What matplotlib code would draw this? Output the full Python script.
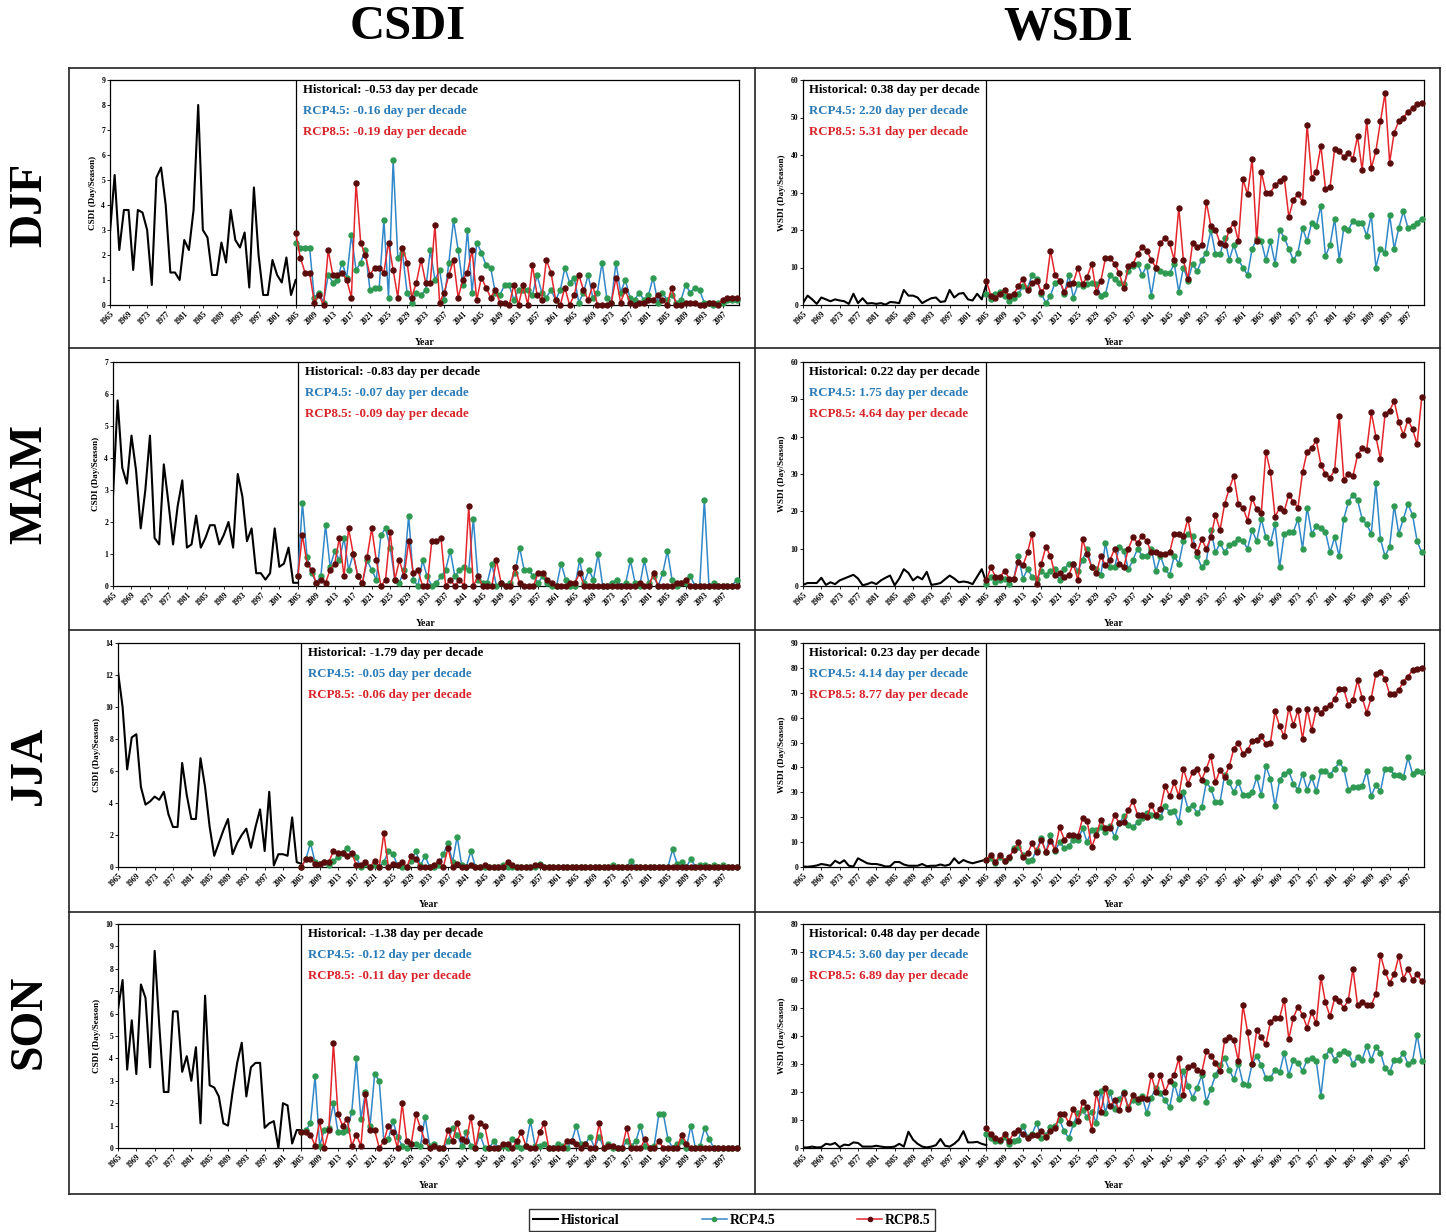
import numpy as np
import matplotlib
matplotlib.use('Agg')
import matplotlib.pyplot as plt
from matplotlib.lines import Line2D

plt.rcParams['font.family'] = ['Liberation Serif', 'DejaVu Serif']
plt.rcParams['font.weight'] = 'bold'

W, H = 1446, 1232

years_hist = list(range(1965, 2006))
proj_start = 2005
xticks = list(range(1965, 2101, 4))
seasons = ['DJF', 'MAM', 'JJA', 'SON']

# ---- CSDI ----
csdi_djf_hist = [2.9, 5.2, 2.2, 3.8, 3.8, 1.4, 3.8, 3.7, 3.0, 0.8,
                 5.1, 5.5, 4.0, 1.3, 1.3, 1.0, 2.6, 2.2, 3.8, 8.0,
                 3.0, 2.7, 1.2, 1.2, 2.5, 1.7, 3.8, 2.6, 2.3, 2.9,
                 0.7, 4.7, 2.0, 0.4, 0.4, 1.8, 1.2, 0.9, 1.9, 0.4,
                 1.0]
csdi_djf_rcp45 = [2.5, 2.3, 2.3, 2.3, 0.3, 0.5, 0.1, 1.2, 0.9, 1.0,
                  1.7, 1.1, 2.8, 1.4, 1.7, 2.2, 0.6, 0.7, 0.7, 3.4,
                  0.3, 5.8, 1.9, 2.1, 0.5, 0.1, 0.5, 0.4, 0.6, 2.2,
                  1.0, 1.4, 0.2, 1.7, 3.4, 2.2, 0.8, 3.0, 0.5, 2.5,
                  2.1, 1.6, 1.5, 0.5, 0.4, 0.8, 0.8, 0.2, 0.6, 0.6,
                  0.6, 0.4, 1.2, 0.5, 0.3, 0.6, 0.2, 0.6, 1.5, 0.9,
                  1.1, 0.1, 0.5, 1.2, 0.3, 0.5, 1.7, 0.3, 0.1, 1.7,
                  0.5, 1.0, 0.3, 0.2, 0.5, 0.2, 0.4, 1.1, 0.1, 0.5,
                  0.2, 0.4, 0.1, 0.2, 0.8, 0.5, 0.7, 0.6, 0.1, 0.1,
                  0.0, 0.1, 0.1, 0.2, 0.2, 0.2]
csdi_djf_rcp85 = [2.9, 1.9, 1.3, 1.3, 0.1, 0.4, 0.0, 2.2, 1.2, 1.2,
                  1.3, 1.0, 0.3, 4.9, 2.5, 2.0, 1.2, 1.5, 1.5, 1.3,
                  2.5, 1.4, 0.3, 2.3, 1.7, 0.3, 0.9, 1.8, 0.9, 0.9,
                  3.2, 0.1, 0.5, 1.2, 1.8, 0.3, 1.0, 1.3, 2.2, 0.2,
                  1.1, 0.7, 0.3, 0.6, 0.1, 0.1, 0.0, 0.8, 0.0, 0.8,
                  0.0, 1.6, 0.4, 0.2, 1.8, 1.3, 0.2, 0.0, 0.7, 0.0,
                  0.4, 1.2, 0.6, 0.2, 0.8, 0.0, 0.0, 0.0, 0.1, 1.1,
                  0.1, 0.6, 0.1, 0.0, 0.1, 0.1, 0.2, 0.2, 0.4, 0.2,
                  0.0, 0.7, 0.0, 0.0, 0.1, 0.1, 0.1, 0.0, 0.0, 0.1,
                  0.1, 0.0, 0.2, 0.3, 0.3, 0.3]

csdi_mam_hist = [2.8, 5.8, 3.7, 3.2, 4.7, 3.6, 1.8, 3.0, 4.7, 1.5,
                 1.3, 3.8, 2.6, 1.3, 2.5, 3.3, 1.2, 1.3, 2.2, 1.2,
                 1.5, 1.9, 1.9, 1.3, 1.6, 2.0, 1.2, 3.5, 2.8, 1.4,
                 1.8, 0.4, 0.4, 0.2, 0.4, 1.8, 0.6, 0.7, 1.2, 0.1,
                 0.1]
csdi_mam_rcp45 = [0.3, 2.6, 0.9, 0.4, 0.1, 0.3, 1.9, 0.6, 1.1, 0.8,
                  1.5, 0.5, 1.0, 0.3, 0.1, 0.8, 0.5, 0.2, 1.6, 1.8,
                  1.2, 0.2, 0.1, 0.5, 2.2, 0.2, 0.0, 0.8, 0.3, 0.0,
                  0.1, 0.3, 0.5, 1.1, 0.3, 0.5, 0.6, 0.5, 2.1, 0.2,
                  0.1, 0.1, 0.7, 0.0, 0.1, 0.0, 0.1, 0.4, 1.2, 0.5,
                  0.5, 0.3, 0.1, 0.3, 0.1, 0.0, 0.0, 0.7, 0.2, 0.0,
                  0.0, 0.8, 0.1, 0.5, 0.2, 1.0, 0.0, 0.0, 0.1, 0.2,
                  0.0, 0.1, 0.8, 0.1, 0.0, 0.8, 0.1, 0.3, 0.0, 0.4,
                  1.1, 0.2, 0.0, 0.1, 0.1, 0.3, 0.0, 0.0, 2.7, 0.0,
                  0.1, 0.0, 0.0, 0.0, 0.0, 0.2]
csdi_mam_rcp85 = [0.3, 1.6, 0.7, 0.5, 0.1, 0.2, 0.1, 0.5, 0.7, 1.5,
                  0.3, 1.8, 1.0, 0.3, 0.1, 0.9, 1.8, 0.8, 0.0, 0.2,
                  1.7, 0.2, 0.8, 0.3, 1.4, 0.4, 0.5, 0.0, 0.0, 1.4,
                  1.4, 1.5, 0.0, 0.2, 0.0, 0.2, 0.0, 2.5, 0.0, 0.3,
                  0.0, 0.0, 0.0, 0.8, 0.1, 0.0, 0.0, 0.6, 0.1, 0.0,
                  0.0, 0.0, 0.4, 0.4, 0.2, 0.1, 0.0, 0.0, 0.0, 0.1,
                  0.1, 0.4, 0.0, 0.0, 0.0, 0.0, 0.0, 0.0, 0.0, 0.0,
                  0.0, 0.0, 0.0, 0.0, 0.1, 0.0, 0.0, 0.4, 0.0, 0.0,
                  0.0, 0.0, 0.1, 0.1, 0.2, 0.0, 0.0, 0.0, 0.0, 0.0,
                  0.0, 0.0, 0.0, 0.0, 0.0, 0.0]

csdi_jja_hist = [12.2, 10.0, 6.1, 8.1, 8.3, 5.0, 3.9, 4.1, 4.4, 4.2,
                 4.7, 3.3, 2.5, 2.5, 6.5, 4.5, 3.0, 3.0, 6.8, 5.0,
                 2.5, 0.7, 1.5, 2.3, 3.0, 0.8, 1.5, 2.0, 2.4, 1.2,
                 2.5, 3.6, 1.0, 4.7, 0.1, 0.8, 0.8, 0.7, 3.1, 0.3,
                 0.2]
csdi_jja_rcp45 = [0.0, 0.5, 1.5, 0.3, 0.2, 0.3, 0.1, 0.4, 0.6, 0.9,
                  1.2, 0.8, 0.6, 0.0, 0.2, 0.0, 0.1, 0.0, 0.3, 1.0,
                  0.8, 0.1, 0.0, 0.0, 0.4, 1.0, 0.1, 0.7, 0.0, 0.0,
                  0.1, 0.8, 1.5, 0.3, 1.9, 0.1, 0.0, 1.0, 0.0, 0.0,
                  0.0, 0.0, 0.0, 0.0, 0.1, 0.0, 0.0, 0.0, 0.0, 0.0,
                  0.0, 0.0, 0.2, 0.0, 0.0, 0.0, 0.0, 0.0, 0.0, 0.0,
                  0.0, 0.0, 0.0, 0.0, 0.0, 0.0, 0.0, 0.0, 0.1, 0.0,
                  0.0, 0.0, 0.4, 0.0, 0.0, 0.0, 0.0, 0.0, 0.0, 0.0,
                  0.0, 1.1, 0.2, 0.3, 0.0, 0.5, 0.0, 0.1, 0.1, 0.0,
                  0.1, 0.0, 0.1, 0.0, 0.0, 0.0]
csdi_jja_rcp85 = [0.0, 0.5, 0.5, 0.2, 0.2, 0.3, 0.3, 1.0, 0.9, 0.9,
                  0.7, 0.9, 0.1, 0.1, 0.3, 0.0, 0.4, 0.0, 2.1, 0.0,
                  0.2, 0.1, 0.3, 0.0, 0.7, 0.5, 0.0, 0.0, 0.0, 0.1,
                  0.4, 0.0, 1.2, 0.0, 0.2, 0.0, 0.0, 0.1, 0.0, 0.0,
                  0.1, 0.0, 0.0, 0.0, 0.0, 0.3, 0.1, 0.0, 0.0, 0.0,
                  0.0, 0.1, 0.1, 0.0, 0.0, 0.0, 0.0, 0.0, 0.0, 0.0,
                  0.0, 0.0, 0.0, 0.0, 0.0, 0.0, 0.0, 0.0, 0.0, 0.0,
                  0.0, 0.0, 0.0, 0.0, 0.0, 0.0, 0.0, 0.0, 0.0, 0.0,
                  0.0, 0.0, 0.0, 0.0, 0.0, 0.0, 0.0, 0.0, 0.0, 0.0,
                  0.0, 0.0, 0.0, 0.0, 0.0, 0.0]

csdi_son_hist = [6.2, 7.5, 3.5, 5.7, 3.3, 7.3, 6.7, 3.6, 8.8, 5.5,
                 2.5, 2.5, 6.1, 6.1, 3.4, 4.1, 3.0, 4.5, 1.1, 6.8,
                 2.8, 2.7, 2.3, 1.1, 1.0, 2.5, 3.8, 4.7, 2.3, 3.6,
                 3.8, 3.8, 0.9, 1.1, 1.2, 0.0, 2.0, 1.9, 0.2, 0.8,
                 0.8]
csdi_son_rcp45 = [0.7, 0.8, 1.1, 3.2, 0.1, 0.8, 0.9, 2.0, 0.7, 0.7,
                  0.8, 1.6, 4.0, 1.3, 2.5, 1.0, 3.3, 3.0, 0.3, 0.4,
                  1.2, 0.5, 0.1, 0.0, 0.2, 0.2, 0.1, 1.4, 0.1, 0.2,
                  0.0, 0.0, 0.3, 0.9, 0.6, 0.1, 0.7, 0.1, 0.0, 0.6,
                  0.0, 0.0, 0.3, 0.0, 0.1, 0.0, 0.4, 0.1, 0.0, 0.1,
                  1.2, 0.1, 0.1, 0.2, 0.0, 0.0, 0.2, 0.1, 0.0, 0.3,
                  1.0, 0.2, 0.2, 0.5, 0.0, 0.5, 0.0, 0.2, 0.0, 0.0,
                  0.0, 0.3, 0.1, 0.3, 1.0, 0.1, 0.0, 0.1, 1.5, 1.5,
                  0.4, 0.0, 0.2, 0.3, 0.0, 1.0, 0.0, 0.1, 0.9, 0.4,
                  0.0, 0.0, 0.0, 0.0, 0.0, 0.0]
csdi_son_rcp85 = [0.7, 0.7, 0.6, 0.1, 1.2, 0.0, 0.8, 4.7, 1.5, 1.0,
                  1.3, 0.1, 0.6, 0.1, 2.4, 0.8, 0.8, 0.0, 0.3, 1.0,
                  0.7, 0.0, 2.0, 0.3, 0.2, 1.5, 0.9, 0.3, 0.0, 0.1,
                  0.0, 0.0, 0.8, 0.3, 1.1, 0.4, 0.3, 1.4, 0.0, 1.1,
                  1.0, 0.0, 0.0, 0.0, 0.2, 0.2, 0.0, 0.3, 0.7, 0.1,
                  0.0, 0.0, 0.7, 1.1, 0.0, 0.0, 0.0, 0.0, 0.3, 0.3,
                  0.2, 0.0, 0.2, 0.0, 0.0, 1.1, 0.0, 0.1, 0.1, 0.0,
                  0.0, 0.9, 0.0, 0.0, 0.0, 0.4, 0.0, 0.0, 0.3, 0.0,
                  0.0, 0.0, 0.0, 0.6, 0.2, 0.0, 0.0, 0.0, 0.0, 0.0,
                  0.0, 0.0, 0.0, 0.0, 0.0, 0.0]

# ---- WSDI ----
wsdi_djf_hist = [0.5, 2.5, 1.5, 0.3, 2.0, 1.5, 1.0, 1.5, 1.2, 1.0,
                 0.3, 3.0, 0.5, 1.8, 0.4, 0.5, 0.3, 0.5, 0.1, 0.8,
                 0.7, 0.5, 4.0, 2.5, 2.5, 2.0, 0.5, 1.2, 1.8, 2.0,
                 0.8, 1.0, 4.0, 2.0, 3.0, 3.2, 1.5, 1.2, 3.0, 1.5,
                 5.5]
wsdi_djf_rcp45 = [3.0, 1.5, 3.0, 3.5, 2.5, 1.0, 2.0, 3.0, 5.0, 4.5,
                  8.0, 7.0, 3.0, 0.5, 2.5, 6.0, 6.5, 3.0, 8.0, 2.0,
                  5.5, 5.0, 5.5, 6.0, 5.5, 2.5, 3.0, 8.0, 7.0, 6.0,
                  5.5, 9.0, 10.5, 11.0, 8.0, 10.5, 2.5, 10.0, 9.0, 8.5,
                  8.5, 11.0, 3.5, 10.0, 6.5, 11.0, 9.0, 12.0, 14.0, 20.0,
                  13.5, 13.5, 18.0, 12.0, 16.0, 12.0, 10.0, 8.0, 15.0, 17.5,
                  17.0, 12.0, 17.0, 11.0, 20.0, 18.0, 15.0, 12.0, 14.0, 20.5,
                  17.0, 22.0, 21.0, 26.5, 13.0, 16.0, 23.0, 12.0, 20.5, 20.0,
                  22.5, 22.0, 22.0, 18.5, 24.0, 10.0, 15.0, 14.0, 24.0, 15.0,
                  20.5, 25.0, 20.5, 21.0, 22.0, 23.0]
wsdi_djf_rcp85 = [6.5, 2.5, 2.0, 3.0, 4.0, 2.5, 3.0, 5.0, 7.0, 4.0,
                  6.0, 6.5, 3.5, 5.0, 14.5, 8.0, 6.5, 3.5, 5.5, 6.0,
                  10.0, 5.5, 7.5, 11.0, 3.5, 6.5, 12.5, 12.5, 11.0, 8.5,
                  4.5, 10.5, 11.0, 13.5, 15.5, 14.5, 12.0, 10.0, 16.5, 18.0,
                  16.5, 12.0, 26.0, 12.0, 7.0, 16.5, 15.5, 16.0, 27.5, 21.0,
                  20.0, 16.5, 16.0, 20.0, 22.0, 17.0, 33.5, 29.5, 39.0, 17.0,
                  35.5, 30.0, 30.0, 32.0, 33.0, 34.0, 23.5, 28.0, 29.5, 27.5,
                  48.0, 34.0, 35.5, 42.5, 31.0, 31.5, 41.5, 41.0, 39.5, 40.5,
                  39.0, 45.0, 36.0, 49.0, 36.5, 41.0, 49.0, 56.5, 38.0, 46.0,
                  49.0, 50.0, 51.5, 52.5, 53.5, 54.0]

wsdi_mam_hist = [0.3, 0.8, 0.8, 0.8, 2.2, 0.3, 1.0, 0.5, 1.5, 2.0,
                 2.5, 3.0, 2.0, 0.2, 0.5, 1.0, 0.5, 1.5, 2.2, 2.8,
                 0.2, 2.0, 4.5, 3.5, 1.5, 2.5, 1.8, 3.8, 0.3, 0.5,
                 0.8, 1.8, 2.8, 2.0, 1.0, 1.2, 1.0, 0.5, 2.5, 4.5,
                 1.0]
wsdi_mam_rcp45 = [0.5, 2.5, 1.0, 1.5, 2.0, 0.5, 2.0, 8.0, 2.0, 4.5,
                  2.5, 2.0, 4.0, 3.0, 4.0, 4.5, 1.5, 4.5, 6.0, 6.0,
                  4.0, 7.0, 10.0, 5.0, 4.5, 3.0, 11.5, 5.0, 5.0, 10.5,
                  9.5, 4.5, 7.0, 10.0, 8.0, 8.0, 10.0, 4.0, 8.0, 4.5,
                  3.0, 8.0, 6.0, 12.0, 14.0, 13.5, 8.0, 5.0, 6.5, 15.0,
                  9.0, 11.5, 9.0, 11.0, 11.5, 12.5, 12.0, 10.0, 15.0, 12.0,
                  18.0, 13.0, 11.5, 16.5, 5.0, 14.0, 14.5, 14.5, 18.0, 10.0,
                  21.0, 14.0, 16.0, 15.5, 14.5, 9.0, 13.0, 8.0, 18.0, 22.5,
                  24.5, 23.0, 18.0, 16.5, 14.0, 27.5, 12.5, 8.0, 10.5, 21.5,
                  14.0, 18.0, 22.0, 19.0, 12.0, 9.0]
wsdi_mam_rcp85 = [1.5, 5.0, 2.5, 2.5, 4.0, 2.0, 2.0, 6.5, 5.5, 9.0,
                  14.0, 0.5, 6.0, 10.5, 8.0, 3.0, 3.5, 2.5, 3.0, 6.0,
                  1.5, 12.5, 8.5, 5.0, 3.5, 8.0, 5.5, 7.0, 10.0, 6.0,
                  5.0, 10.0, 13.0, 11.5, 13.5, 12.0, 9.0, 9.0, 8.5, 8.5,
                  9.0, 14.0, 14.0, 13.5, 18.0, 11.0, 9.0, 12.5, 10.0, 13.0,
                  19.0, 15.0, 22.0, 26.0, 29.5, 22.0, 21.0, 17.5, 23.5, 20.5,
                  19.5, 36.0, 30.5, 18.5, 21.0, 20.0, 24.5, 22.5, 21.0, 30.5,
                  36.0, 37.0, 39.0, 32.5, 30.0, 29.0, 31.0, 45.5, 28.5, 30.0,
                  29.5, 35.0, 37.0, 36.5, 46.5, 40.0, 34.0, 46.0, 47.0, 49.5,
                  44.0, 40.5, 44.5, 42.0, 38.0, 50.5]

wsdi_jja_hist = [0.2, 0.1, 0.3, 0.6, 1.2, 0.9, 0.5, 2.5, 1.5, 2.7,
                 0.5, 0.2, 3.5, 2.5, 1.5, 1.2, 1.2, 0.8, 0.2, 0.3,
                 2.0, 2.0, 1.0, 0.5, 0.5, 0.5, 1.2, 0.3, 0.5, 0.5,
                 1.0, 0.5, 1.0, 3.5, 1.5, 2.8, 2.0, 1.5, 2.0, 2.5,
                 3.0]
wsdi_jja_rcp45 = [3.0, 3.5, 1.5, 4.0, 2.5, 3.5, 7.5, 8.0, 5.0, 2.5,
                  3.0, 7.0, 11.5, 6.0, 13.0, 6.5, 10.0, 7.5, 8.5, 11.0,
                  11.0, 15.5, 10.0, 15.0, 15.0, 16.0, 14.0, 16.5, 12.0, 17.5,
                  20.5, 17.0, 16.0, 18.0, 19.5, 21.5, 21.0, 20.5, 20.0, 24.5,
                  22.0, 22.5, 18.0, 30.0, 23.5, 25.0, 21.5, 24.0, 34.0, 31.5,
                  26.0, 26.0, 37.0, 34.0, 30.0, 34.0, 29.0, 29.0, 30.0, 36.0,
                  29.0, 40.5, 35.5, 24.5, 35.0, 37.5, 38.5, 33.5, 31.0, 37.5,
                  31.0, 36.0, 30.5, 38.5, 38.5, 37.0, 39.5, 42.0, 39.5, 31.0,
                  32.0, 32.0, 32.5, 38.5, 28.5, 33.0, 30.5, 39.5, 39.5, 37.0,
                  37.0, 36.0, 44.0, 37.5, 38.5, 38.0]
wsdi_jja_rcp85 = [3.0, 5.0, 2.0, 5.0, 2.5, 4.0, 7.0, 10.0, 4.0, 5.5,
                  9.5, 6.0, 11.0, 6.0, 10.5, 7.0, 16.0, 11.0, 13.0, 13.0,
                  12.5, 19.5, 18.5, 8.0, 13.0, 19.0, 15.5, 15.5, 21.0, 17.5,
                  18.0, 23.0, 26.5, 21.0, 21.0, 20.0, 25.0, 21.0, 23.5, 32.5,
                  28.5, 34.0, 28.5, 39.5, 33.5, 38.0, 39.5, 35.0, 39.5, 44.5,
                  34.0, 39.0, 36.0, 40.5, 47.5, 50.0, 45.5, 47.0, 50.5, 51.0,
                  52.5, 49.5, 50.0, 62.5, 56.5, 52.5, 64.0, 57.0, 63.0, 51.5,
                  63.5, 55.0, 63.5, 62.0, 64.0, 65.0, 67.5, 71.5, 71.5, 65.0,
                  67.0, 75.0, 68.0, 62.0, 68.0, 77.5, 78.5, 75.5, 69.5, 69.5,
                  71.0, 74.5, 76.5, 79.0, 79.5, 80.0]

wsdi_son_hist = [0.2, 0.2, 0.5, 0.2, 0.3, 1.5, 1.2, 1.8, 0.3, 1.2,
                 1.0, 2.0, 1.8, 0.5, 0.5, 0.5, 0.8, 0.5, 0.3, 0.3,
                 0.5, 1.5, 0.5, 5.8, 3.0, 1.5, 0.5, 0.2, 0.5, 1.0,
                 3.2, 0.8, 0.5, 1.5, 3.0, 6.0, 2.0, 2.0, 2.2, 1.5,
                 1.0]
wsdi_son_rcp45 = [5.0, 3.5, 2.5, 2.5, 4.0, 1.5, 2.5, 3.0, 8.0, 4.0,
                  5.0, 9.0, 3.5, 4.5, 7.5, 8.0, 10.0, 6.0, 3.5, 8.5,
                  12.5, 13.5, 11.0, 13.0, 9.0, 20.5, 12.5, 20.0, 14.0, 17.5,
                  20.0, 14.5, 17.0, 16.5, 18.5, 12.5, 18.0, 21.5, 19.5, 17.0,
                  14.5, 23.0, 17.5, 27.5, 22.0, 18.0, 21.5, 26.0, 16.5, 21.0,
                  26.0, 29.5, 32.0, 28.0, 24.5, 30.0, 23.0, 22.5, 30.0, 33.0,
                  29.5, 25.0, 25.0, 28.0, 27.0, 34.0, 26.0, 31.5, 30.5, 27.5,
                  31.5, 32.0, 31.0, 18.5, 33.0, 35.0, 31.5, 33.5, 34.5, 34.0,
                  30.0, 32.5, 31.5, 36.5, 31.5, 36.0, 34.0, 28.5, 27.0, 31.5,
                  31.5, 34.0, 30.0, 31.0, 40.5, 31.0]
wsdi_son_rcp85 = [7.0, 5.0, 3.5, 3.0, 5.0, 2.5, 5.5, 6.5, 5.0, 3.5,
                  4.5, 4.5, 6.0, 4.0, 6.0, 7.0, 12.0, 12.0, 9.0, 14.0,
                  9.5, 16.5, 14.5, 6.5, 19.5, 13.0, 21.5, 15.0, 17.0, 13.5,
                  19.5, 14.0, 19.0, 17.5, 18.0, 17.5, 26.0, 20.0, 26.0, 20.0,
                  24.0, 26.0, 32.0, 19.0, 29.0, 29.5, 28.0, 27.0, 34.5, 33.0,
                  30.5, 27.5, 38.5, 39.5, 38.5, 31.0, 51.0, 41.5, 30.0, 42.0,
                  39.5, 37.0, 45.0, 46.5, 46.5, 53.0, 39.0, 46.5, 50.5, 47.5,
                  43.0, 48.5, 44.5, 61.0, 52.0, 47.0, 53.5, 52.5, 50.0, 53.0,
                  64.0, 51.0, 52.0, 51.0, 51.0, 55.0, 69.0, 63.0, 59.0, 62.0,
                  68.5, 60.5, 64.0, 60.0, 62.0, 59.5]

# trends (day per decade)
csdi_trend_hist = [-0.53, -0.83, -1.79, -1.38]
csdi_trend_rcp45 = [-0.16, -0.07, -0.05, -0.12]
csdi_trend_rcp85 = [-0.19, -0.09, -0.06, -0.11]
wsdi_trend_hist = [0.38, 0.22, 0.23, 0.48]
wsdi_trend_rcp45 = [2.20, 1.75, 4.14, 3.60]
wsdi_trend_rcp85 = [5.31, 4.64, 8.77, 6.89]

csdi_ymax = [9, 7, 14, 10]
csdi_ystep = [1, 1, 2, 1]
wsdi_ymax = [60, 60, 90, 80]
wsdi_ystep = [10, 10, 10, 10]

csdi_data = [(csdi_djf_hist, csdi_djf_rcp45, csdi_djf_rcp85),
             (csdi_mam_hist, csdi_mam_rcp45, csdi_mam_rcp85),
             (csdi_jja_hist, csdi_jja_rcp45, csdi_jja_rcp85),
             (csdi_son_hist, csdi_son_rcp45, csdi_son_rcp85)]
wsdi_data = [(wsdi_djf_hist, wsdi_djf_rcp45, wsdi_djf_rcp85),
             (wsdi_mam_hist, wsdi_mam_rcp45, wsdi_mam_rcp85),
             (wsdi_jja_hist, wsdi_jja_rcp45, wsdi_jja_rcp85),
             (wsdi_son_hist, wsdi_son_rcp45, wsdi_son_rcp85)]

# colours
c_hist = 'black'
c45_line, c45_mark, c45_text = '#3188c8', '#2f9a52', '#2a7bb8'
c85_line, c85_mark, c85_text = '#e3262b', '#5a0c0c', '#d8252a'

# layout in pixels
row_top = [80, 362, 643, 924]
row_bot = [305, 586, 867, 1148]
left_l = [110, 113, 118, 118]
left_r = 739
right_l, right_r = 803, 1424
row_label_y = [205, 484, 765, 1022]


def px_rect(l, t, r, b):
    return [l / W, 1 - b / H, (r - l) / W, (b - t) / H]


def draw_panel(ax, hist, r45, r85, ymax, ystep, ylabel, trends, text_at_split):
    ax.plot(years_hist, hist, color=c_hist, lw=1.5, zorder=3)
    yrs45 = np.arange(proj_start, proj_start + len(r45))
    yrs85 = np.arange(proj_start, proj_start + len(r85))
    ax.plot(yrs45, r45, color=c45_line, lw=1.1, marker='o', ms=3.6,
            mfc=c45_mark, mec=c45_mark, clip_on=False, zorder=4)
    ax.plot(yrs85, r85, color=c85_line, lw=1.1, marker='o', ms=3.6,
            mfc=c85_mark, mec=c85_mark, clip_on=False, zorder=5)
    ax.axvline(2005, color='black', lw=0.9, zorder=2)
    ax.set_xlim(1965, 2100.5)
    ax.set_ylim(0, ymax)
    ax.set_yticks(np.arange(0, ymax + ystep / 2, ystep))
    ax.set_xticks(xticks)
    ax.set_xticklabels([str(t) for t in xticks], rotation=45, ha='right',
                       rotation_mode='anchor', fontsize=5.5)
    ax.tick_params(axis='both', length=2, width=0.6, pad=1.5, labelsize=5.5)
    for s in ax.spines.values():
        s.set_linewidth(0.9)
    ax.set_ylabel(ylabel, fontsize=6.5, fontweight='bold', labelpad=3)
    ax.annotate('Year', xy=(0.5, 0), xycoords='axes fraction',
                xytext=(0, -27), textcoords='offset points',
                ha='center', va='center', fontsize=7, fontweight='bold')
    labels = ['Historical: %.2f day per decade' % trends[0],
              'RCP4.5: %.2f day per decade' % trends[1],
              'RCP8.5: %.2f day per decade' % trends[2]]
    colors = ['black', c45_text, c85_text]
    offs = [7.5, 22.5, 37.5]
    for lab, col, oy in zip(labels, colors, offs):
        if text_at_split:
            ax.annotate(lab, xy=(2005, 1), xycoords=('data', 'axes fraction'),
                        xytext=(5, -oy), textcoords='offset points',
                        ha='left', va='center', fontsize=9.3,
                        fontweight='bold', color=col)
        else:
            ax.annotate(lab, xy=(0, 1), xycoords='axes fraction',
                        xytext=(4.5, -oy), textcoords='offset points',
                        ha='left', va='center', fontsize=9.3,
                        fontweight='bold', color=col)


fig = plt.figure(figsize=(W / 100, H / 100), dpi=100)

for i in range(4):
    axl = fig.add_axes(px_rect(left_l[i], row_top[i], left_r, row_bot[i]))
    h, a, b = csdi_data[i]
    draw_panel(axl, h, a, b, csdi_ymax[i], csdi_ystep[i], 'CSDI (Day/Season)',
               (csdi_trend_hist[i], csdi_trend_rcp45[i], csdi_trend_rcp85[i]), True)
    axr = fig.add_axes(px_rect(right_l, row_top[i], right_r, row_bot[i]))
    h, a, b = wsdi_data[i]
    draw_panel(axr, h, a, b, wsdi_ymax[i], wsdi_ystep[i], 'WSDI (Day/Season)',
               (wsdi_trend_hist[i], wsdi_trend_rcp45[i], wsdi_trend_rcp85[i]), False)
    fig.text(30 / W, 1 - row_label_y[i] / H, seasons[i], rotation=90,
             ha='center', va='center', fontsize=33, fontweight='bold')

fig.text(408 / W, 1 - 27 / H, 'CSDI', ha='center', va='center',
         fontsize=35, fontweight='bold')
fig.text(1068 / W, 1 - 27 / H, 'WSDI', ha='center', va='center',
         fontsize=35, fontweight='bold')

# panel frames
def fline(x0, y0, x1, y1):
    fig.add_artist(Line2D([x0 / W, x1 / W], [1 - y0 / H, 1 - y1 / H],
                          transform=fig.transFigure, color='#222222', lw=1.2))

box_l, box_r, box_t, box_b = 69, 1440, 68, 1194
fline(box_l, box_t, box_r, box_t)
fline(box_l, box_b, box_r, box_b)
fline(box_l, box_t, box_l, box_b)
fline(box_r, box_t, box_r, box_b)
fline(755, box_t, 755, box_b)
for yy in [348, 630, 912]:
    fline(box_l, yy, box_r, yy)

handles = [Line2D([], [], color=c_hist, lw=1.5),
           Line2D([], [], color=c45_line, lw=1.1, marker='o', ms=3,
                  mfc=c45_mark, mec=c45_mark),
           Line2D([], [], color=c85_line, lw=1.1, marker='o', ms=3,
                  mfc=c85_mark, mec=c85_mark)]
leg = fig.legend(handles, ['Historical', 'RCP4.5', 'RCP8.5'], loc='center',
                 bbox_to_anchor=(732 / W, 1 - 1220 / H), ncol=3,
                 frameon=True, fancybox=False, edgecolor='black',
                 handlelength=1.8, handletextpad=0.2, columnspacing=5.9,
                 borderpad=0.3, borderaxespad=0,
                 prop={'weight': 'bold', 'size': 10})
leg.get_frame().set_linewidth(1.0)

fig.savefig('out.png', dpi=100)
